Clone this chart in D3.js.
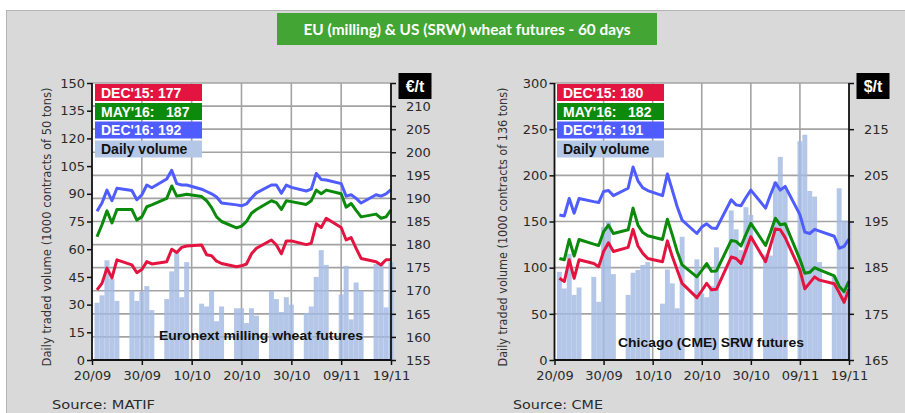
<!DOCTYPE html>
<html><head><meta charset="utf-8">
<script src="https://cdn.jsdelivr.net/npm/d3@7/dist/d3.min.js"></script>
<style>
body{margin:0;background:#fff;}
svg{display:block;}
</style>
</head><body>
<svg id="c" width="905" height="413"></svg>
<script>
// ---------------- DATA ----------------
const title = "EU (milling) & US (SRW) wheat futures - 60 days";
const dates = [
 "2015-09-21","2015-09-22","2015-09-23","2015-09-24","2015-09-25",
 "2015-09-28","2015-09-29","2015-09-30","2015-10-01","2015-10-02",
 "2015-10-05","2015-10-06","2015-10-07","2015-10-08","2015-10-09",
 "2015-10-12","2015-10-13","2015-10-14","2015-10-15","2015-10-16",
 "2015-10-19","2015-10-20","2015-10-21","2015-10-22","2015-10-23",
 "2015-10-26","2015-10-27","2015-10-28","2015-10-29","2015-10-30",
 "2015-11-02","2015-11-03","2015-11-04","2015-11-05","2015-11-06",
 "2015-11-09","2015-11-10","2015-11-11","2015-11-12","2015-11-13",
 "2015-11-16","2015-11-17","2015-11-18","2015-11-19"];
const xTickDates = ["2015-09-20","2015-09-30","2015-10-10","2015-10-20","2015-10-30","2015-11-09","2015-11-19"];
const xTickLabels = ["20/09","30/09","10/10","20/10","30/10","09/11","19/11"];

// Euronext (MATIF) milling wheat
const euVolume = [31,35,54,44,32, 37.5,32,37,40,27, 33,48,59,34,53, 30.5,29,37.5,21,29,
  28,28,20,28,24, 37.5,33,26,34,30, 25.5,29,45,59.5,51.5, 35.5,51,22,42,37.5, 52,51.5,28.5,53];
const euDec15 = [170.2,171.6,174.9,172.8,176.7, 175.6,173.9,174.6,176.3,175.8, 176.3,179.0,178.3,179.4,179.7,
  179.9,177.8,177.6,176.4,175.9, 175.2,175.4,175.8,178.0,179.2, 181.0,179.9,178.0,180.8,180.8,
  180.0,180.3,184.5,183.7,185.7, 183.7,181.0,181.5,179.2,177.0, 176.3,175.6,176.7,176.7];
const euMay16 = [181.7,184.3,187.3,184.7,187.6, 187.6,185.3,186.0,188.2,188.6, 190.0,192.7,190.5,190.7,190.9,
  190.4,189.5,188.0,186.0,185.0, 183.6,184.0,185.0,186.8,187.6, 189.5,189.1,187.6,189.5,189.3,
  188.7,189.5,191.8,191.0,191.8, 191.0,188.1,188.9,187.4,186.0, 186.6,185.7,186.0,187.5];
const euDec16 = [187.2,189.0,191.8,189.5,192.2, 191.7,189.7,190.8,192.9,192.3, 194.2,196.1,193.2,192.9,192.9,
  192.0,191.5,191.0,190.3,189.0, 188.6,188.4,188.8,190.1,191.2, 192.9,192.9,191.1,192.9,192.4,
  191.6,192.0,195.4,194.1,194.0, 193.2,190.5,190.8,190.0,189.0, 190.8,190.5,191.0,191.9];
const euLegend = ["DEC'15: 177","MAY'16:   187","DEC'16: 192","Daily volume"];

// Chicago (CME) SRW wheat
const usVolume = [95.5,77.5,115,70.5,78.5, 90,63,144,150,93, 70.5,94.5,97.5,103,106, 61,98,83,56,133.5,
  109,72,68,80,122, 162,141.5,119,165.5,157, 114,113,193,220,185, 237,244,183,177,106, 90,186,151,150];
const usDec15 = [182.7,182.0,186.7,182.7,186.7, 185.9,185.2,188.5,190.4,188.5, 189.4,193.3,189.7,188.1,187.0,
  186.3,190.8,187.4,184.5,181.6, 178.5,180.0,181.6,180.2,180.3, 187.3,187.0,185.9,188.8,191.7,
  186.3,189.8,193.4,193.2,191.5, 184.5,180.4,181.7,183.0,182.3, 181.5,179.6,177.5,180.4];
const usMay16 = [187.0,186.7,191.1,187.5,191.1, 190.1,189.8,192.8,194.2,192.4, 193.2,197.9,194.2,192.6,191.9,
  191.1,195.5,192.1,188.5,185.6, 183.0,184.4,185.9,184.2,184.3, 190.9,190.7,189.7,192.2,194.6,
  189.8,192.6,195.7,194.3,194.5, 186.8,183.8,184.0,185.0,184.5, 183.2,181.0,179.8,182.1];
const usDec16 = [196.4,196.2,200.0,196.8,200.0, 199.3,199.1,201.5,201.7,200.6, 202.2,206.8,203.8,202.3,201.7,
  200.6,205.3,201.8,198.2,195.3, 192.4,193.8,194.5,193.6,193.5, 199.7,198.6,198.4,200.2,201.8,
  197.9,200.8,203.4,201.8,202.6, 196.5,192.7,192.4,193.3,192.9, 191.8,189.2,189.6,191.2];
const usLegend = ["DEC'15: 180","MAY'16:   182","DEC'16: 191","Daily volume"];

// ---------------- STYLE / LAYOUT ----------------
const colors = {dec15:"#e3143f", may16:"#0c8a0c", dec16:"#4f5cff", vol:"#a3bbe3", volLegend:"#b4c7e7"};
const parse = d3.timeParse("%Y-%m-%d");
const dts = dates.map(parse);
const tickDts = xTickDates.map(parse);

const charts = [
  {left:92, right:391, top:83, bottom:360, volMax:150, volStep:15, pMin:155, pMax:215, pStep:5,
   vol:euVolume, series:[euDec16, euMay16, euDec15], legend:euLegend, unit:"€/t",
   ytitle:"Daily traded volume (1000 contracts of 50 tons)", ytitleX:47,
   sub:"Euronext milling wheat futures", subX:261, subY:340, subW:204,
   source:"Source: MATIF", sourceX:52, sourceW:103, legendX:95},
  {left:554.5, right:849, top:83, bottom:360, volMax:300, volStep:50, pMin:165, pMax:225, pStep:10,
   vol:usVolume, series:[usDec16, usMay16, usDec15], legend:usLegend, unit:"$/t",
   ytitle:"Daily traded volume (1000 contracts of 136 tons)", ytitleX:503,
   sub:"Chicago (CME) SRW futures", subX:711, subY:347, subW:186,
   source:"Source: CME", sourceX:513, sourceW:90, legendX:557}
];

const svg = d3.select("#c");
// background panel
svg.append("rect").attr("x",6.5).attr("y",10.5).attr("width",905).attr("height",410)
  .attr("fill","#d9d9d9").attr("stroke","#b5b5b5").attr("stroke-width",1);

// title
svg.append("rect").attr("x",277).attr("y",13).attr("width",380).attr("height",32).attr("fill","#43a534");
svg.append("text").attr("x",467).attr("y",34.5).attr("text-anchor","middle")
  .attr("font-family","Lato, 'Open Sans', sans-serif").attr("font-weight","bold").attr("font-size",14.5)
  .attr("fill","#fff").attr("textLength",327).attr("lengthAdjust","spacingAndGlyphs").text(title);

const seriesColors = [colors.dec16, colors.may16, colors.dec15];
const legendColors = [colors.dec15, colors.may16, colors.dec16, colors.volLegend];

charts.forEach(c => {
  const g = svg.append("g");
  const x = d3.scaleTime().domain([tickDts[0], tickDts[tickDts.length-1]]).range([c.left, c.right]);
  const yV = d3.scaleLinear().domain([0, c.volMax]).range([c.bottom, c.top]);
  const yP = d3.scaleLinear().domain([c.pMin, c.pMax]).range([c.bottom, c.top]);
  const dayW = x(d3.timeDay.offset(tickDts[0],1)) - x(tickDts[0]);

  g.append("rect").attr("x",c.left).attr("y",c.top).attr("width",c.right-c.left).attr("height",c.bottom-c.top).attr("fill","#fff");

  const pTicks = d3.range(c.pMin, c.pMax + 0.001, c.pStep);
  // gridlines
  g.selectAll(".hg").data(pTicks.slice(1)).join("line")
    .attr("x1",c.left).attr("x2",c.right).attr("y1",d=>yP(d)).attr("y2",d=>yP(d))
    .attr("stroke","#a3a3a3").attr("stroke-width",1.6);
  g.selectAll(".vg").data(tickDts.slice(1,-1)).join("line")
    .attr("x1",d=>x(d)).attr("x2",d=>x(d)).attr("y1",c.top).attr("y2",c.bottom)
    .attr("stroke","#a3a3a3").attr("stroke-width",1.6);

  // bars
  g.selectAll(".bar").data(c.vol).join("rect")
    .attr("x",(d,i)=>x(dts[i]) - dayW/2).attr("width",dayW)
    .attr("y",d=>yV(d)).attr("height",d=>c.bottom - yV(d))
    .attr("fill",colors.vol).attr("fill-opacity",0.82);

  // sub title
  g.append("text").attr("x",c.subX).attr("y",c.subY).attr("text-anchor","middle")
    .attr("font-family","'Liberation Sans', Arial, sans-serif").attr("font-weight","bold").attr("font-size",13.5)
    .attr("fill","#111").attr("textLength",c.subW).attr("lengthAdjust","spacingAndGlyphs").text(c.sub);

  // lines
  const line = d3.line().x((d,i)=>x(dts[i])).y(d=>yP(d));
  c.series.forEach((s,k) => {
    g.append("path").datum(s).attr("d",line).attr("fill","none")
      .attr("stroke",seriesColors[k]).attr("stroke-width",3).attr("stroke-linejoin","round");
  });

  // axes
  const axL = d3.axisLeft(yV).tickValues(d3.range(0, c.volMax+0.001, c.volStep)).tickSize(5).tickPadding(2);
  const axR = d3.axisRight(yP).tickValues(pTicks).tickSize(5).tickPadding(10)
    .tickFormat(d => d === c.pMax ? "" : d);
  const axB = d3.axisBottom(x).tickValues(tickDts).tickSize(5).tickPadding(6)
    .tickFormat((d,i)=>xTickLabels[i]);
  const styleAxis = sel => {
    sel.select(".domain").attr("stroke","#111").attr("stroke-width",1.8);
    sel.selectAll(".tick line").attr("stroke","#111").attr("stroke-width",1.5);
    sel.selectAll("text").attr("font-family","'DejaVu Sans', Verdana, sans-serif").attr("font-size",13).attr("fill","#2a2a2a");
  };
  g.append("g").attr("transform",`translate(${c.left},0)`).call(axL).call(styleAxis)
    .select(".domain").attr("d",`M-0,${c.top}V${c.bottom}`);
  g.append("g").attr("transform",`translate(${c.right},0)`).call(axR).call(styleAxis)
    .select(".domain").attr("d",`M0,${c.top}V${c.bottom}`);
  g.append("g").attr("transform",`translate(0,${c.bottom})`).call(axB).call(styleAxis)
    .select(".domain").attr("d",`M${c.left},0H${c.right}`);

  // y title
  g.append("text").attr("transform",`translate(${c.ytitleX},227) rotate(-90)`)
    .attr("text-anchor","middle").attr("dy","0.35em")
    .attr("font-family","'DejaVu Sans', Verdana, sans-serif").attr("font-size",11.5).attr("fill","#333")
    .attr("textLength",279).attr("lengthAdjust","spacingAndGlyphs").text(c.ytitle);

  // legend
  const rows = [84,103,121.5,140.5];
  c.legend.forEach((t,i) => {
    g.append("rect").attr("x",c.legendX).attr("y",rows[i]).attr("width",107).attr("height",17)
      .attr("fill",legendColors[i]);
    g.append("text").attr("x",c.legendX+6).attr("y",rows[i]+13.5)
      .attr("font-family","'Liberation Sans', Arial, sans-serif").attr("font-weight","bold").attr("font-size",14)
      .attr("fill", i===3 ? "#111" : "#fff").style("white-space","pre").text(t);
  });

  // unit box
  g.append("rect").attr("x",c.right+7.5).attr("y",73).attr("width",33).attr("height",26).attr("fill","#000");
  g.append("text").attr("x",c.right+24).attr("y",91.5).attr("text-anchor","middle")
    .attr("font-family","'Liberation Sans', Arial, sans-serif").attr("font-weight","bold").attr("font-size",16)
    .attr("fill","#fff").text(c.unit);

  // source
  g.append("text").attr("x",c.sourceX).attr("y",409)
    .attr("font-family","'DejaVu Sans', Verdana, sans-serif").attr("font-size",13).attr("fill","#2a2a2a")
    .attr("textLength",c.sourceW).attr("lengthAdjust","spacingAndGlyphs").text(c.source);
});
</script>
</body></html>
